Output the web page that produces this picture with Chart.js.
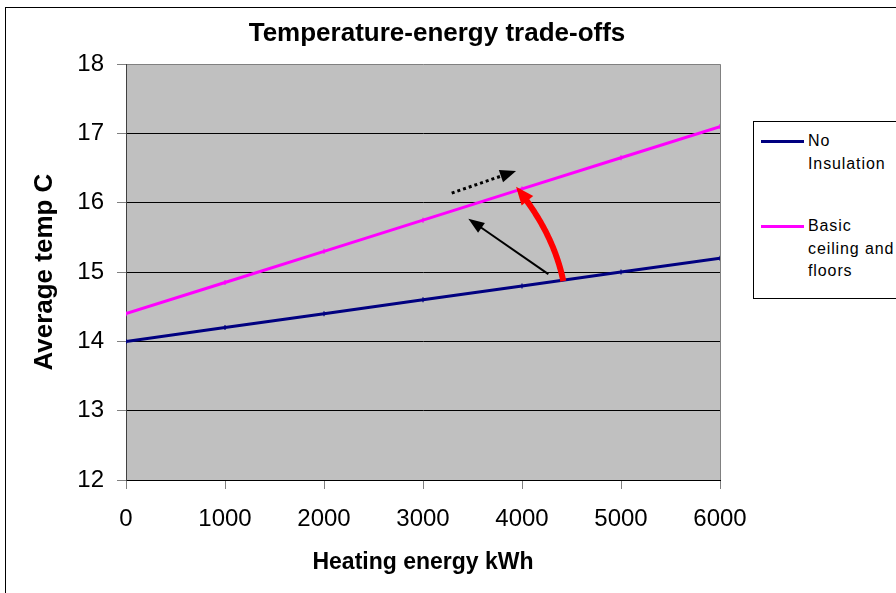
<!DOCTYPE html>
<html>
<head>
<meta charset="utf-8">
<script src="https://cdn.jsdelivr.net/npm/chart.js@4.4.1/dist/chart.umd.min.js"></script>
<style>
  body { margin: 0; background: #fff; overflow: hidden; }
  #wrap { position: relative; width: 896px; height: 593px; }
  #legend {
    position: absolute; left: 753px; top: 121px; width: 200px; height: 176px;
    border: 1px solid #000; background: #fff;
    font-family: 'Liberation Sans', Arial, sans-serif; font-size: 16px;
    letter-spacing: 0.9px; color: #000;
  }
  .item { position: relative; padding-left: 54px; line-height: 22.5px; }
  .item:first-child { margin-top: 8px; }
  .item + .item { margin-top: 40px; }
  .swatch { position: absolute; left: 7px; top: 10px; width: 43px; height: 3px; }
</style>
</head>
<body>
<div id="wrap">
  <canvas id="grafico"></canvas>
  <div id="legend"></div>
</div>
<script>
// data
const energia = [0, 1000, 2000, 3000, 4000, 5000, 6000];
const noInsulation = [14.0, 14.2, 14.4, 14.6, 14.8, 15.0, 15.2];
const basicCeiling = [14.4, 14.85, 15.3, 15.75, 16.2, 16.65, 17.1];
const seriesNames = ['No Insulation', 'Basic ceiling and floors'];
const legendLines = [['No', 'Insulation'], ['Basic', 'ceiling and', 'floors']];
const seriesColors = ['#000080', '#ff00ff'];

// arrows drawn on the plot (data coordinates)
const dottedArrowX = [3290, 3940];
const dottedArrowY = [16.14, 16.46];
const solidArrowX = [4266, 3458];
const solidArrowY = [14.97, 15.77];
const curveArrowX = [4417, 4248, 3940];
const curveArrowY = [14.87, 15.56, 16.23];

const fontFam = "'Liberation Sans', Arial, sans-serif";

function punta(ctx, fx, fy, tx, ty, len, w, color) {
    const ang = Math.atan2(ty - fy, tx - fx);
    ctx.save();
    ctx.translate(tx, ty);
    ctx.rotate(ang);
    ctx.fillStyle = color;
    ctx.beginPath();
    ctx.moveTo(0, 0);
    ctx.lineTo(-len, -w / 2);
    ctx.lineTo(-len, w / 2);
    ctx.closePath();
    ctx.fill();
    ctx.restore();
}

function freccia(ctx, x0, y0, x1, y1, opts) {
    const ang = Math.atan2(y1 - y0, x1 - x0);
    const ex = x1 - Math.cos(ang) * opts.len * 0.8;
    const ey = y1 - Math.sin(ang) * opts.len * 0.8;
    ctx.save();
    ctx.strokeStyle = opts.color;
    ctx.lineWidth = opts.width;
    ctx.setLineDash(opts.dash || []);
    ctx.beginPath();
    ctx.moveTo(x0, y0);
    ctx.lineTo(ex, ey);
    ctx.stroke();
    ctx.restore();
    punta(ctx, x0, y0, x1, y1, opts.len, opts.head, opts.color);
}

const decorazioni = {
    id: 'decorazioni',
    beforeDraw(chart) {
        const { ctx, chartArea: a } = chart;
        ctx.save();
        ctx.fillStyle = '#fff';
        ctx.fillRect(0, 0, chart.width, chart.height);
        ctx.strokeStyle = '#000';
        ctx.lineWidth = 1;
        ctx.strokeRect(5.5, 7.5, chart.width + 20, chart.height + 20);
        ctx.fillStyle = '#c0c0c0';
        ctx.fillRect(a.left, a.top, a.right - a.left, a.bottom - a.top);
        ctx.restore();
    },
    afterDatasetsDraw(chart) {
        const { ctx, chartArea: a, scales } = chart;
        const px = v => scales.x.getPixelForValue(v);
        const py = v => scales.y.getPixelForValue(v);

        ctx.save();
        ctx.strokeStyle = '#808080';
        ctx.lineWidth = 1;
        ctx.beginPath();
        ctx.moveTo(Math.round(a.right) + 0.5, a.top);
        ctx.lineTo(Math.round(a.right) + 0.5, a.bottom);
        ctx.stroke();
        ctx.restore();

        // dotted arrow
        freccia(ctx, px(dottedArrowX[0]), py(dottedArrowY[0]), px(dottedArrowX[1]), py(dottedArrowY[1]),
            { color: '#000', width: 3, dash: [3, 3], len: 16, head: 13 });
        // plain arrow
        freccia(ctx, px(solidArrowX[0]), py(solidArrowY[0]), px(solidArrowX[1]), py(solidArrowY[1]),
            { color: '#000', width: 2, len: 16, head: 12 });

        // red curved arrow
        const p0 = [px(curveArrowX[0]), py(curveArrowY[0])];
        const m = [px(curveArrowX[1]), py(curveArrowY[1])];
        const p2 = [px(curveArrowX[2]), py(curveArrowY[2])];
        const c = [2 * m[0] - (p0[0] + p2[0]) / 2, 2 * m[1] - (p0[1] + p2[1]) / 2];
        const len = 18;
        ctx.save();
        ctx.strokeStyle = '#ff0000';
        ctx.lineWidth = 6;
        ctx.beginPath();
        ctx.moveTo(p0[0], p0[1]);
        for (let i = 1; i <= 60; i++) {
            const t = i / 60;
            const x = (1 - t) * (1 - t) * p0[0] + 2 * (1 - t) * t * c[0] + t * t * p2[0];
            const y = (1 - t) * (1 - t) * p0[1] + 2 * (1 - t) * t * c[1] + t * t * p2[1];
            if (Math.hypot(p2[0] - x, p2[1] - y) < len * 0.7) break;
            ctx.lineTo(x, y);
        }
        ctx.stroke();
        ctx.restore();
        punta(ctx, c[0], c[1], p2[0], p2[1], len, 15, '#ff0000');
    }
};

const ctx = document.getElementById('grafico').getContext('2d');
new Chart(ctx, {
    type: 'line',
    data: {
        datasets: [
            {
                label: seriesNames[0],
                data: energia.map((x, i) => ({ x: x, y: noInsulation[i] })),
                borderColor: seriesColors[0],
                backgroundColor: seriesColors[0],
                borderWidth: 3,
                pointStyle: 'line',
                rotation: 90,
                pointRadius: 2.5,
                pointBorderWidth: 1.2,
                tension: 0
            },
            {
                label: seriesNames[1],
                data: energia.map((x, i) => ({ x: x, y: basicCeiling[i] })),
                borderColor: seriesColors[1],
                backgroundColor: seriesColors[1],
                borderWidth: 3,
                pointStyle: 'line',
                rotation: 90,
                pointRadius: 2.5,
                pointBorderWidth: 1.2,
                tension: 0
            }
        ]
    },
    options: {
        responsive: true,
        maintainAspectRatio: false,
        animation: false,
        layout: { padding: { left: 0, top: 0, right: 22, bottom: 0 } },
        plugins: {
            legend: { display: false },
            tooltip: { enabled: false },
            title: {
                display: true,
                text: 'Temperature-energy trade-offs',
                color: '#000',
                font: { family: fontFam, size: 26, weight: 'bold' },
                padding: { top: 18, bottom: 15 }
            }
        },
        scales: {
            x: {
                type: 'linear',
                min: 0,
                max: 6000,
                afterFit(scale) { scale.height = 113; },
                ticks: {
                    stepSize: 1000,
                    color: '#000',
                    padding: 15.6,
                    font: { family: fontFam, size: 24 },
                    callback: v => String(v)
                },
                grid: { drawOnChartArea: false, tickLength: 9, tickColor: '#808080' },
                border: { color: '#000', width: 1 },
                title: {
                    display: true,
                    text: 'Heating energy kWh',
                    color: '#000',
                    font: { family: fontFam, size: 23, weight: 'bold' },
                    padding: { top: 0, bottom: 17 }
                }
            },
            y: {
                min: 12,
                max: 18,
                afterFit(scale) { scale.width = 126; },
                ticks: {
                    stepSize: 1,
                    color: '#000',
                    padding: 13,
                    font: { family: fontFam, size: 24 }
                },
                grid: {
                    color: c => (c.tick && c.tick.value === 18 ? '#808080' : '#000'),
                    lineWidth: 1,
                    tickLength: 9,
                    tickColor: '#808080'
                },
                border: { color: '#404040', width: 1 },
                title: {
                    display: true,
                    text: 'Average temp C',
                    color: '#000',
                    font: { family: fontFam, size: 26, weight: 'bold' },
                    padding: { top: 29, bottom: 0 }
                }
            },
            spazio: {
                type: 'linear',
                position: 'right',
                display: true,
                afterFit(scale) { scale.width = 154; },
                ticks: { display: false },
                grid: { display: false },
                border: { display: false }
            }
        }
    },
    plugins: [decorazioni]
});

// legend built from the series names
const legenda = document.getElementById('legend');
legendLines.forEach((righe, i) => {
    const item = document.createElement('div');
    item.className = 'item';
    item.title = seriesNames[i];
    const sw = document.createElement('span');
    sw.className = 'swatch';
    sw.style.background = seriesColors[i];
    item.appendChild(sw);
    righe.forEach((r, k) => {
        if (k > 0) item.appendChild(document.createElement('br'));
        item.appendChild(document.createTextNode(r));
    });
    legenda.appendChild(item);
});
</script>
</body>
</html>
